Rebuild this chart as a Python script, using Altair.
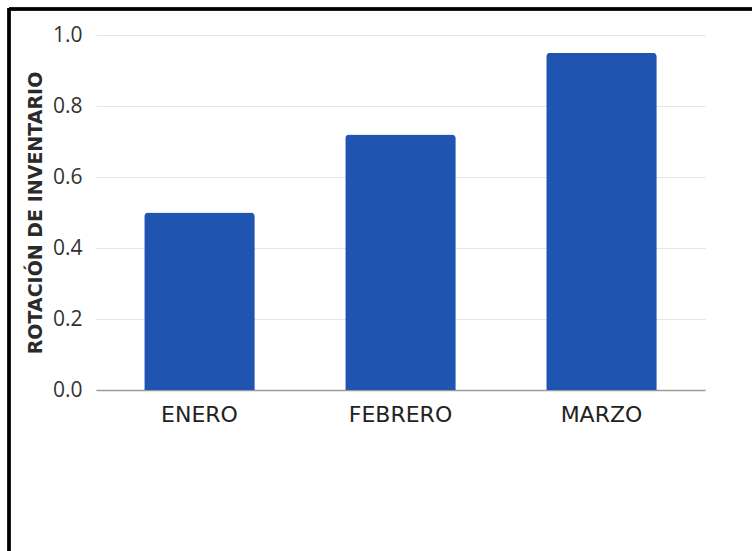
import altair as alt
import pandas as pd

meses = ["ENERO", "FEBRERO", "MARZO"]
rotacion = [0.50, 0.72, 0.95]

df = pd.DataFrame({"mes": meses, "valor": rotacion})

bars = alt.Chart(df).mark_bar(
    color="#1f55b1", cornerRadiusTopLeft=4, cornerRadiusTopRight=4
).encode(
    x=alt.X("mes:N", sort=meses, title=None,
            scale=alt.Scale(paddingInner=0.45, paddingOuter=0.24),
            axis=alt.Axis(labelAngle=0, labelFontSize=22, labelColor="#222",
                          labelFont="DejaVu Sans", labelPadding=14, ticks=False,
                          domainColor="#9a9a9a", domainWidth=1.5, grid=False)),
    y=alt.Y("valor:Q", title="ROTACIÓN DE INVENTARIO",
            scale=alt.Scale(domain=[0, 1]),
            axis=alt.Axis(values=[0, 0.2, 0.4, 0.6, 0.8, 1.0], format=".1f",
                          labelFontSize=21, labelColor="#333", labelFont="Open Sans",
                          labelPadding=14, ticks=False, domain=False,
                          gridColor="#e6e6e6", gridWidth=1.2,
                          titleFontSize=19, titleFont="DejaVu Sans", titleFontWeight=600,
                          titleColor="#2a2a2a", titlePadding=7)),
)

border_top = alt.Chart(df).mark_rule(color="#000", strokeWidth=3).encode(
    x=alt.value(-87), x2=alt.value(700), y=alt.value(-26)
)
border_left = alt.Chart(df).mark_rule(color="#000", strokeWidth=3).encode(
    x=alt.value(-87), y=alt.value(-27), y2=alt.value(520)
)

chart = alt.layer(bars, border_top, border_left).properties(
    width=609, height=355,
    autosize=alt.AutoSizeParams(type="none"),
    padding={"left": 96, "top": 35, "right": 47, "bottom": 161},
    background="white",
).configure_view(stroke=None)

chart.save("out.html", embed_options={"renderer": "svg", "actions": False})
